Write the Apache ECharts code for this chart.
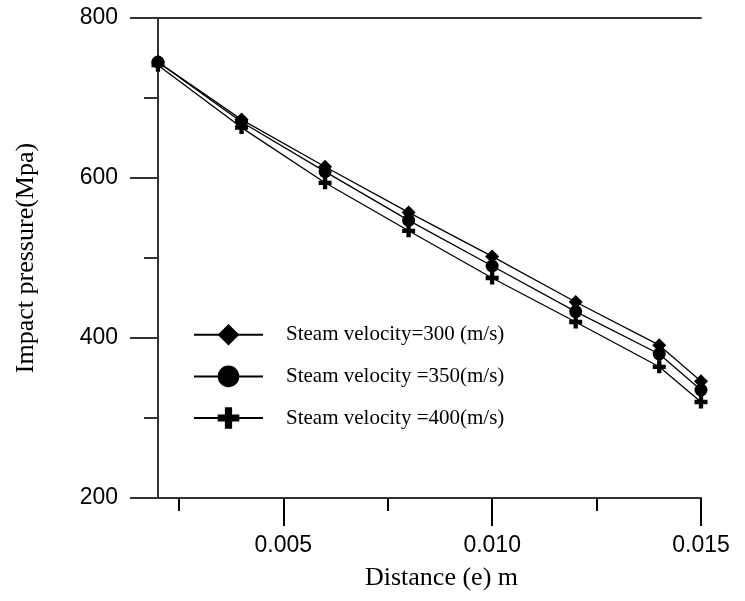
<!DOCTYPE html>
<html>
<head>
<meta charset="utf-8">
<script src="https://cdn.jsdelivr.net/npm/echarts@6/dist/echarts.min.js"></script>
<style>
  html, body { margin: 0; padding: 0; background: #fff; }
  #chart { width: 745px; height: 601px; }
</style>
</head>
<body>
<div id="chart"></div>
<script>
// distance (m)
const distance = [0.002, 0.004, 0.006, 0.008, 0.010, 0.012, 0.014, 0.015]
// impact pressure (Mpa) per steam velocity
const v300 = [745, 673, 614, 557, 502, 445, 391, 346]
const v350 = [745, 670, 608, 547, 490, 433, 380, 335]
const v400 = [741, 663, 594, 534, 475, 420, 364, 320]
const seriesNames = ['Steam velocity=300 (m/s)', 'Steam velocity =350(m/s)', 'Steam velocity =400(m/s)']
const xMajorTicks = [0.005, 0.010, 0.015]
const xMinorTicks = [0.0025, 0.0075, 0.0125]

const plusPath = 'path://M4,0H8V4H12V8H8V12H4V8H0V4H4Z'
const serif = '"Liberation Serif", "Times New Roman", serif'
const sans = '"Liberation Sans", Arial, sans-serif'
const AxisColor = '#333'

const chart = echarts.init(document.getElementById('chart'), null, { renderer: 'canvas' })

const pairs = (ys) => distance.map((d, i) => [d, ys[i]])

const makeSeries = (name, ys, symbol, size) => ({
  name: name,
  type: 'line',
  data: pairs(ys),
  symbol: symbol,
  symbolSize: size,
  showSymbol: true,
  itemStyle: { color: '#000' },
  lineStyle: { color: '#000', width: 1.3 },
  emphasis: { disabled: true },
  animation: false
})

const option = {
  backgroundColor: '#fff',
  grid: { left: 158, right: 44, top: 18, bottom: 103 },
  legend: {
    orient: 'vertical',
    left: 193,
    top: 324,
    padding: 0,
    itemWidth: 69,
    itemHeight: 27,
    itemGap: 20,
    data: seriesNames,
    textStyle: {
      fontFamily: serif,
      fontSize: 21,
      color: '#000',
      padding: [0, 0, 0, 18]
    }
  },
  xAxis: [
    {
      type: 'value',
      position: 'bottom',
      min: 0.002,
      max: 0.015,
      name: 'Distance (e) m',
      nameLocation: 'middle',
      nameGap: 67,
      nameTextStyle: { fontFamily: serif, fontSize: 26, color: '#000', padding: [0, 0, 0, 24] },
      axisLine: { lineStyle: { color: AxisColor, width: 2 } },
      axisTick: {
        show: true,
        customValues: xMajorTicks,
        length: 28,
        lineStyle: { color: '#000', width: 2 }
      },
      axisLabel: {
        customValues: xMajorTicks,
        formatter: (v) => v.toFixed(3),
        margin: 36,
        fontFamily: sans,
        fontSize: 23,
        color: '#000'
      },
      splitLine: { show: false }
    },
    {
      type: 'value',
      position: 'bottom',
      min: 0.002,
      max: 0.015,
      axisLine: { show: false },
      axisTick: {
        show: true,
        customValues: xMinorTicks,
        length: 13,
        lineStyle: { color: '#000', width: 2 }
      },
      axisLabel: { show: false },
      splitLine: { show: false }
    },
    {
      type: 'value',
      position: 'top',
      min: 0.002,
      max: 0.015,
      axisLine: { lineStyle: { color: AxisColor, width: 2 } },
      axisTick: { show: false },
      axisLabel: { show: false },
      splitLine: { show: false }
    }
  ],
  yAxis: [
    {
      type: 'value',
      position: 'left',
      min: 200,
      max: 800,
      interval: 200,
      name: 'Impact pressure(Mpa)',
      nameLocation: 'middle',
      nameGap: 119,
      nameTextStyle: { fontFamily: serif, fontSize: 26, color: '#000' },
      axisLine: { show: true, lineStyle: { color: AxisColor, width: 2 } },
      axisTick: { show: true, length: 28, lineStyle: { color: AxisColor, width: 2 } },
      minorTick: { show: true, splitNumber: 2, length: 14, lineStyle: { color: AxisColor, width: 2 } },
      axisLabel: { margin: 40, fontFamily: sans, fontSize: 23, color: '#000' },
      splitLine: { show: false },
      minorSplitLine: { show: false }
    }
  ],
  series: [
    makeSeries(seriesNames[0], v300, 'diamond', 14),
    makeSeries(seriesNames[1], v350, 'circle', 13),
    makeSeries(seriesNames[2], v400, plusPath, 13)
  ]
}

chart.setOption(option)
window.addEventListener('resize', function () {
  chart.resize()
})
</script>
</body>
</html>
